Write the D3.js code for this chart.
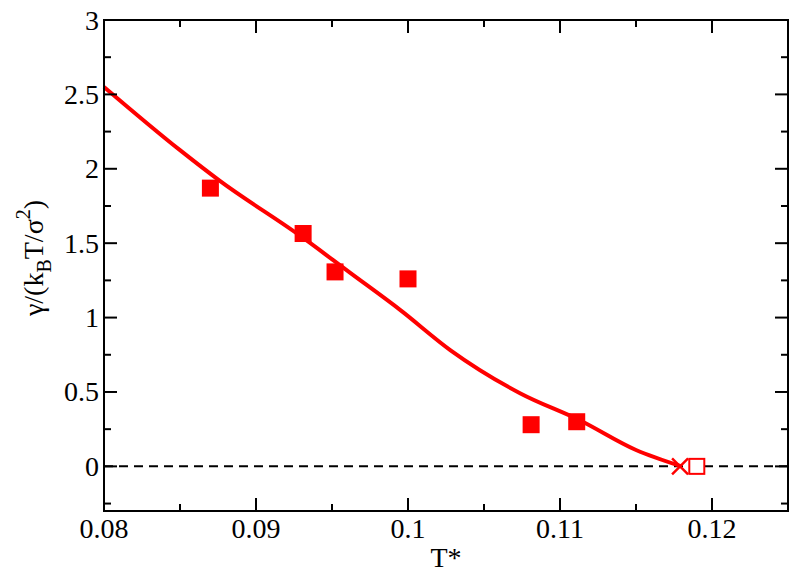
<!DOCTYPE html>
<html><head><meta charset="utf-8">
<script src="https://cdn.jsdelivr.net/npm/d3@7"></script>
<style>body{margin:0;background:#fff}svg{display:block}</style>
</head><body>
<svg id="c" width="800" height="578"></svg>
<script>
const simT = [0.087, 0.0931, 0.0952, 0.1000, 0.1081, 0.1111];
const simGamma = [1.87, 1.565, 1.307, 1.26, 0.28, 0.30];
const fitT = [0.080, 0.0850, 0.0876, 0.0929, 0.0962, 0.0995, 0.1028, 0.1074, 0.1113, 0.1150, 0.1180];
const fitGamma = [2.55, 2.125, 1.92, 1.55, 1.30, 1.05, 0.78, 0.49, 0.31, 0.11, 0.00];
const crossT = [0.1179];
const crossGamma = [0];
const openT = [0.1190];
const openGamma = [0];
const xTicks = [0.08, 0.09, 0.1, 0.11, 0.12];
const xTickLabels = ["0.08", "0.09", "0.1", "0.11", "0.12"];
const yTicks = [0, 0.5, 1, 1.5, 2, 2.5, 3];
const yTickLabels = ["0", "0.5", "1", "1.5", "2", "2.5", "3"];

const svg = d3.select("#c");
const L = 104, R = 788, T = 20, B = 511;
const x = d3.scaleLinear().domain([0.08, 0.125]).range([L, R]);
const y = d3.scaleLinear().domain([-0.3, 3]).range([B, T]);
const red = "#ff0000";
const font = "'Liberation Serif', 'Times New Roman', serif";
const fs = 28;

// zero dashed line
svg.append("line").attr("x1", x(0.08)).attr("x2", x(0.125)).attr("y1", y(0)).attr("y2", y(0))
  .attr("stroke", "#000").attr("stroke-width", 2).attr("stroke-dasharray", "9,6");

// fit curve
const line = d3.line().x((d, i) => x(fitT[i])).y((d, i) => y(fitGamma[i])).curve(d3.curveMonotoneX);
svg.append("path").datum(fitT).attr("d", line).attr("fill", "none")
  .attr("stroke", red).attr("stroke-width", 4);

// simulation squares
const s = 17;
svg.selectAll("rect.sim").data(simT).enter().append("rect").attr("class", "sim")
  .attr("x", (d) => x(d) - s / 2).attr("y", (d, i) => y(simGamma[i]) - s / 2)
  .attr("width", s).attr("height", s).attr("fill", red);

// open square
svg.selectAll("rect.open").data(openT).enter().append("rect").attr("class", "open")
  .attr("x", (d) => x(d) - s / 2 + 1).attr("y", (d, i) => y(openGamma[i]) - s / 2 + 1)
  .attr("width", s - 2).attr("height", s - 2).attr("fill", "#fff").attr("stroke", red).attr("stroke-width", 2);

// cross
const c = 8;
crossT.forEach((t, i) => {
  const cx = x(t), cy = y(crossGamma[i]);
  svg.append("path").attr("d", `M${cx - c},${cy - c}L${cx + c},${cy + c}M${cx - c},${cy + c}L${cx + c},${cy - c}`)
    .attr("stroke", red).attr("stroke-width", 2.5).attr("fill", "none");
});

// axes frame with inward ticks
const xMinor = d3.range(0.085, 0.125, 0.01);
const yMinor = [-0.25, 0.25, 0.75, 1.25, 1.75, 2.25, 2.75];
const g = svg.append("g").attr("stroke", "#000").attr("stroke-width", 2);
const maj = 13, mnr = 7;
xTicks.forEach(t => {
  g.append("line").attr("x1", x(t)).attr("x2", x(t)).attr("y1", B).attr("y2", B - maj);
  g.append("line").attr("x1", x(t)).attr("x2", x(t)).attr("y1", T).attr("y2", T + maj);
});
xMinor.forEach(t => {
  g.append("line").attr("x1", x(t)).attr("x2", x(t)).attr("y1", B).attr("y2", B - mnr);
  g.append("line").attr("x1", x(t)).attr("x2", x(t)).attr("y1", T).attr("y2", T + mnr);
});
yTicks.forEach(t => {
  g.append("line").attr("x1", L).attr("x2", L + maj).attr("y1", y(t)).attr("y2", y(t));
  g.append("line").attr("x1", R).attr("x2", R - maj).attr("y1", y(t)).attr("y2", y(t));
});
yMinor.forEach(t => {
  g.append("line").attr("x1", L).attr("x2", L + mnr).attr("y1", y(t)).attr("y2", y(t));
  g.append("line").attr("x1", R).attr("x2", R - mnr).attr("y1", y(t)).attr("y2", y(t));
});
g.append("rect").attr("x", L).attr("y", T).attr("width", R - L).attr("height", B - T).attr("fill", "none");

// tick labels
svg.selectAll("text.xt").data(xTicks).enter().append("text").attr("class", "xt")
  .attr("x", d => x(d)).attr("y", 538).attr("text-anchor", "middle")
  .attr("font-family", font).attr("font-size", fs).text((d, i) => xTickLabels[i]);
svg.selectAll("text.yt").data(yTicks).enter().append("text").attr("class", "yt")
  .attr("x", 99).attr("y", d => y(d) + 9.5).attr("text-anchor", "end")
  .attr("font-family", font).attr("font-size", fs).text((d, i) => yTickLabels[i]);

// axis titles
svg.append("text").attr("x", 446).attr("y", 567).attr("text-anchor", "middle")
  .attr("font-family", font).attr("font-size", fs).text("T*");
const yl = svg.append("text").attr("transform", "translate(43,258) rotate(-90)")
  .attr("text-anchor", "middle").attr("font-family", font).attr("font-size", fs);
yl.append("tspan").text("γ/(k");
yl.append("tspan").attr("dy", 8).attr("font-size", 20).text("B");
yl.append("tspan").attr("dy", -8).text("T/σ");
yl.append("tspan").attr("dy", -13).attr("font-size", 20).text("2");
yl.append("tspan").attr("dy", 13).text(")");
</script>
</body></html>
